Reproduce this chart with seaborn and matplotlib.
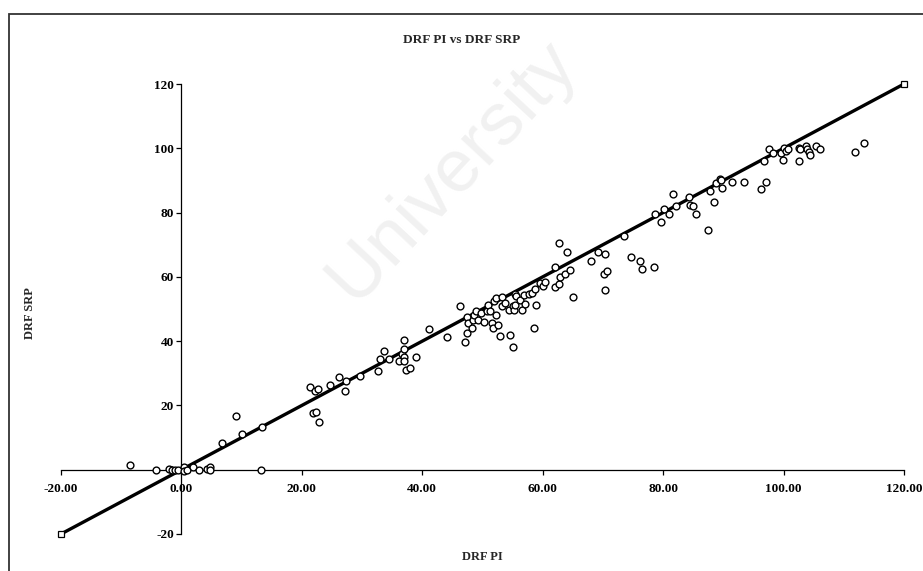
import matplotlib
matplotlib.use("Agg")
import matplotlib.pyplot as plt
import seaborn as sns
import pandas as pd
from matplotlib.patches import Rectangle

# ---- data ----
drf_pi = [-8.6, -4.2, -2.1, -1.6, -1.0, -0.6, 0.4, 0.5, 1.0, 2.0, 3.0, 4.2, 4.8, 4.8, 13.2,
          6.8, 9.0, 10.0, 13.4, 21.3, 22.1, 22.6, 21.8, 22.4, 22.8, 24.6, 26.1, 27.4, 27.2,
          29.7, 32.7, 32.9, 33.6, 34.5, 36.2, 36.7, 36.9, 37.0, 37.0, 37.0, 37.3, 38.0, 38.9,
          41.1, 44.1, 46.2, 47.1, 47.4, 47.5, 47.6, 48.3, 48.4, 48.6, 49.0, 49.2, 49.8, 50.3,
          50.7, 50.9, 51.3, 51.5, 51.7, 51.9, 52.3, 52.3, 52.6, 52.9, 53.3, 53.3, 53.7, 54.4,
          54.6, 55.1, 55.1, 55.3, 55.4, 55.4, 55.6, 56.3, 56.5, 56.9, 57.1, 57.8, 58.3, 58.5,
          58.7, 58.9, 59.5, 60.0, 60.3, 62.1, 62.1, 62.7, 62.8, 63.7, 64.5, 65.1, 62.7, 64.1,
          68.1, 69.1, 70.3, 70.1, 70.7, 70.3, 74.7, 76.2, 76.5, 78.5,
          73.5, 87.5, 78.7, 79.7, 80.1, 80.9, 81.7, 82.1, 84.3, 84.5, 85.0, 85.4, 87.7, 88.5,
          88.7, 89.5, 89.6, 89.7, 91.5, 93.5, 96.3, 97.1, 96.7, 97.5, 98.2, 99.5, 99.9, 100.1,
          100.4, 100.8, 102.5, 102.8, 102.6, 103.8, 103.9, 104.2, 104.4, 105.4, 106.1, 111.8, 113.4]
drf_srp = [1.6, 0.0, 0.2, 0.0, 0.0, 0.0, 1.0, -0.3, 0.0, 0.7, 0.0, 0.3, 1.0, 0.0, 0.0,
           8.3, 16.8, 11.0, 13.2, 25.8, 24.6, 25.2, 17.7, 18.1, 14.7, 26.4, 28.7, 27.6, 24.4,
           29.1, 30.8, 34.5, 36.8, 34.5, 33.9, 36.1, 37.7, 40.5, 35.1, 33.9, 31.1, 31.8, 35.2,
           43.8, 41.2, 51.0, 39.7, 42.6, 47.4, 45.8, 44.2, 46.7, 48.2, 49.3, 46.5, 48.8, 46.0,
           49.3, 51.1, 49.3, 45.6, 44.0, 52.4, 48.1, 53.3, 44.9, 41.5, 50.8, 53.7, 51.9, 49.6,
           41.9, 38.2, 50.8, 49.6, 51.3, 54.7, 53.9, 52.9, 49.6, 54.4, 51.6, 54.8, 55.0, 44.2,
           56.2, 51.3, 58.1, 57.3, 58.3, 56.7, 63.2, 57.9, 60.0, 60.9, 62.1, 53.8, 70.5, 67.8,
           65.0, 67.7, 67.1, 60.8, 61.7, 55.8, 66.2, 64.8, 62.5, 63.1,
           72.8, 74.6, 79.6, 77.2, 81.0, 79.7, 85.9, 82.1, 84.7, 82.4, 82.1, 79.6, 86.6, 83.2,
           89.2, 90.5, 90.0, 87.7, 89.5, 89.6, 87.4, 89.6, 96.1, 99.8, 98.5, 98.5, 96.3, 100.0,
           99.3, 99.9, 100.0, 99.9, 95.9, 100.8, 99.8, 99.0, 97.8, 100.8, 99.9, 99.0, 101.5]
line_x = [-20, 120]
line_y = [-20, 120]
x_ticks = [-20, 0, 20, 40, 60, 80, 100, 120]
y_ticks = [-20, 0, 20, 40, 60, 80, 100, 120]

points = pd.DataFrame({"DRF PI": drf_pi, "DRF SRP": drf_srp})
ident = pd.DataFrame({"x": line_x, "y": line_y})

sns.set_theme(style="white")
plt.rcParams["font.family"] = ["Liberation Serif", "DejaVu Serif"]
plt.rcParams["font.weight"] = "bold"

fig = plt.figure(figsize=(9.23, 5.71), dpi=100)
W, H = 923, 571
ax = fig.add_axes([61 / W, 1 - 534 / H, (904 - 61) / W, (534 - 84) / H])

# figure border (top/left visible, continues past right/bottom)
fig.patches.append(Rectangle((9 / W, -0.02), 1.0, 1 - 14 / H + 0.02, transform=fig.transFigure,
                             fill=False, edgecolor="#333333", linewidth=1.3))

# watermark
fig.text(0.49, 0.70, "University", rotation=47, fontsize=54, color="#f1f1f1",
         ha="center", va="center", fontweight="normal", family=["Liberation Sans", "DejaVu Sans"],
         zorder=0)

sns.lineplot(data=ident, x="x", y="y", ax=ax, color="black", linewidth=2.4,
             marker="s", markersize=4.5, markerfacecolor="white", markeredgecolor="black",
             markeredgewidth=0.9, clip_on=False, zorder=3, sort=False)
sns.scatterplot(data=points, x="DRF PI", y="DRF SRP", ax=ax, s=24, facecolor="white",
                edgecolor="black", linewidth=1.0, zorder=4, clip_on=False)

ax.set_xlim(-20, 120)
ax.set_ylim(-20, 120)
ax.patch.set_alpha(0)
for s in ["top", "right"]:
    ax.spines[s].set_visible(False)
ax.spines["left"].set_position(("data", 0))
ax.spines["bottom"].set_position(("data", 0))
for s in ["left", "bottom"]:
    ax.spines[s].set_color("black")
    ax.spines[s].set_linewidth(0.9)

ax.set_xticks(x_ticks)
ax.set_yticks(y_ticks)
ax.set_xticklabels([f"{v:.2f}" for v in x_ticks])
ax.set_yticklabels([f"{v:d}" for v in y_ticks])
ax.tick_params(axis="both", direction="out", length=3.5, width=0.9, color="black",
               labelsize=9.5, labelcolor="black", bottom=True, left=True)
ax.tick_params(axis="x", pad=6)
ax.tick_params(axis="y", pad=2)
for lab in ax.get_xticklabels() + ax.get_yticklabels():
    lab.set_fontweight("bold")

ax.set_xlabel("")
ax.set_ylabel("")
fig.text(482 / W, 1 - 557 / H, "DRF PI", ha="center", va="center", fontsize=9, fontweight="bold")
fig.text(30 / W, 1 - 313 / H, "DRF SRP", ha="center", va="center", rotation=90,
         fontsize=9, fontweight="bold")
fig.text(462 / W, 1 - 40 / H, "DRF PI vs DRF SRP", ha="center", va="center", fontsize=9.5,
         fontweight="bold")

fig.savefig("out.png", dpi=100)
